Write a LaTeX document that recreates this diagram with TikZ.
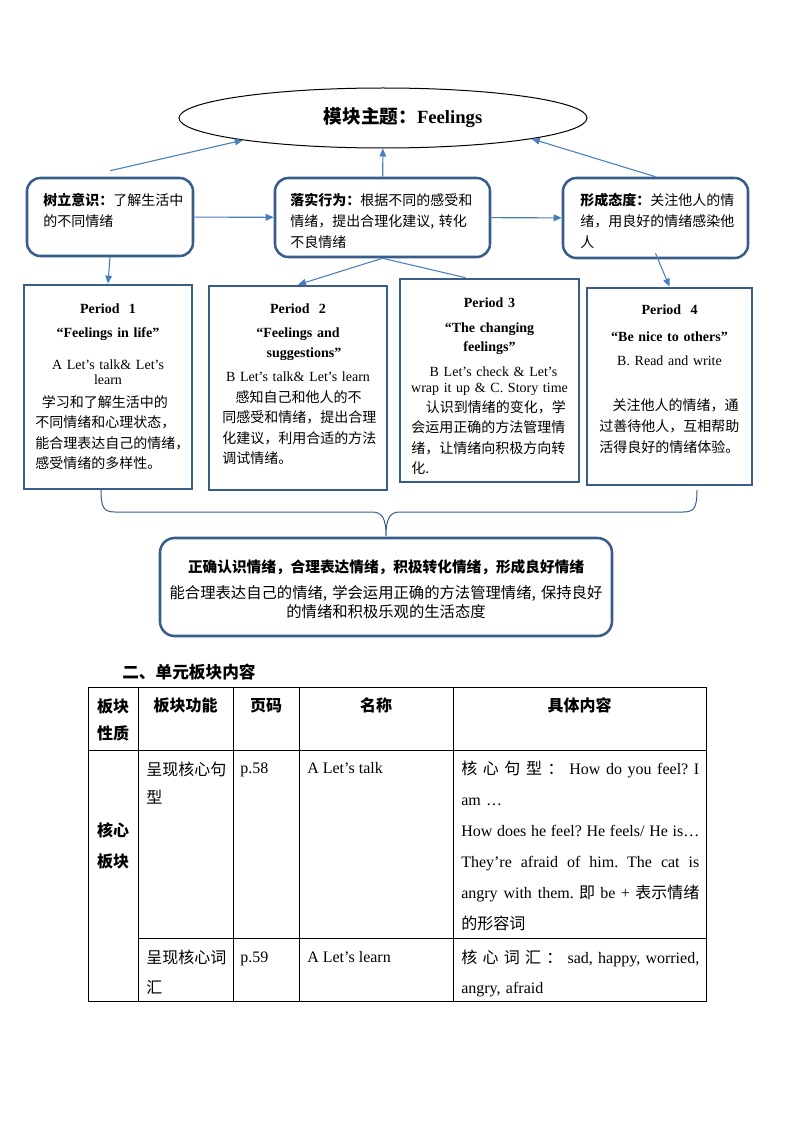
\documentclass[tikz,border=0pt]{standalone}
\usepackage{fontspec}
\setmainfont{Liberation Serif}
\newfontfamily\cjk{Noto Sans CJK SC}
\usetikzlibrary{arrows.meta,shapes.geometric}
\definecolor{boxblue}{RGB}{56,93,138}
\definecolor{lineblue}{RGB}{74,126,187}

\begin{document}
\begin{tikzpicture}[x=0.75pt, y=-0.75pt,
    box/.style = {draw=boxblue, line width=1.9pt, rounded corners=10pt},
    period/.style = {draw=boxblue, line width=2pt},
    link/.style = {draw=lineblue, line width=0.8pt, -{Triangle[length=6pt, width=5pt]}},
    txt/.style = {inner sep=0pt, anchor=base west},
    mid/.style = {inner sep=0pt, anchor=base},
    en/.style = {font=\fontsize{10.5pt}{11.25pt}\selectfont},
    zhbox/.style = {font=\cjk\fontsize{10.5pt}{16.1pt}\selectfont},
    zhp/.style = {font=\cjk\fontsize{10.5pt}{15.4pt}\selectfont},
    th/.style = {font=\cjk\fontsize{12pt}{20.25pt}\selectfont\bfseries},
    td/.style = {font=\fontsize{12pt}{23.25pt}\selectfont},
    grid/.style = {line width=0.75pt}]

    \useasboundingbox (0,0) rectangle (794,1123);

    \node[draw, ellipse, line width=0.75pt, minimum width=306pt, minimum height=45pt] (0) at (383,118) {};
    \node[mid, font=\fontsize{14pt}{16pt}\selectfont\bfseries] (0t) at (403,124) {{\cjk 模块主题：}Feelings};

    \node[box, minimum width=124.5pt, minimum height=58.5pt] (1) at (110,217) {};
    \node[txt, zhbox, text width=122pt, align=left] (1t) at (43,205) {{\bfseries 树立意识：}了解生活中\\的不同情绪};
    \node[box, minimum width=161.25pt, minimum height=59.25pt] (2) at (382.5,217.5) {};
    \node[txt, zhbox, text width=150pt, align=left] (2t) at (290,205) {{\bfseries 落实行为：}根据不同的感受和\\情绪，提出合理化建议, 转化\\不良情绪};
    \node[box, minimum width=138.75pt, minimum height=60pt] (3) at (655.5,218) {};
    \node[txt, zhbox, text width=125pt, align=left] (3t) at (580,205) {{\bfseries 形成态度：}关注他人的情\\绪，用良好的情绪感染他\\人};

    \node[period, minimum width=126pt, minimum height=153pt] (4) at (108,387) {};
    \node[mid, en, text width=120pt, align=center] (4h) at (108,313) {\textbf{Period\ \ 1}\\[6.75pt]\textbf{“Feelings in life”}\\[12.75pt]A Let’s talk\&\ Let’s\\learn};
    \node[txt, zhp, text width=120pt, align=left] (4b) at (35,407) {\hspace*{5pt}学习和了解生活中的\\不同情绪和心理状态，\\能合理表达自己的情绪，\\感受情绪的多样性。};

    \node[period, minimum width=133.5pt, minimum height=153pt] (5) at (298,388) {};
    \node[mid, en, text width=128pt, align=center] (5h) at (298,313) {\textbf{Period\ \ 2}\\[6.75pt]\textbf{“Feelings and}\\[3.75pt]\hspace*{9pt}\textbf{suggestions”}\\[6.75pt]B Let’s talk\&\ Let’s learn};
    \node[txt, zhp, text width=125pt, align=left] (5b) at (222,402) {\hspace*{10pt}感知自己和他人的不\\同感受和情绪，提出合理\\化建议，利用合适的方法\\调试情绪。};

    \node[period, minimum width=134.25pt, minimum height=152.25pt] (6) at (489.5,380.5) {};
    \node[mid, en, text width=130pt, align=center] (6h) at (489.5,307) {\textbf{Period 3}\\[7.5pt]\textbf{“The changing}\\[3pt]\textbf{feelings”}\\[7.5pt]\hspace*{6pt}B Let’s check \& Let’s\\[0.75pt]wrap it up \& C. Story time};
    \node[txt, zhp, text width=128pt, align=left] (6b) at (411,412) {\hspace*{11pt}认识到情绪的变化，学\\会运用正确的方法管理情\\绪，让情绪向积极方向转\\化.};

    \node[period, minimum width=123.75pt, minimum height=147.75pt] (7) at (669.5,386.5) {};
    \node[mid, en, text width=120pt, align=center] (7h) at (669.5,314) {\textbf{Period\ \ 4}\\[9pt]\textbf{“Be nice to others”}\\[6.75pt]B. Read and write};
    \node[txt, zhbox, text width=118pt, align=left] (7b) at (599,410) {\hspace*{10pt}关注他人的情绪，通\\过善待他人，互相帮助\\活得良好的情绪体验。};

    \node[box, rounded corners=11pt, minimum width=339pt, minimum height=73.5pt] (8) at (386,587) {};
    \node[mid, font=\cjk\fontsize{11pt}{14pt}\selectfont\bfseries] (8a) at (386,572) {正确认识情绪，合理表达情绪，积极转化情绪，形成良好情绪};
    \node[mid, text width=330pt, align=center, font=\cjk\fontsize{11.5pt}{14.25pt}\selectfont] (8b) at (386,598) {能合理表达自己的情绪, 学会运用正确的方法管理情绪, 保持良好\\的情绪和积极乐观的生活态度};

    \draw[link] ([yshift=4.5pt]1.north) -- (0.189);
    \draw[link] (2) -- (0);
    \draw[link] (3.north) -- (0.352);
    \draw[link] (1) -- (2);
    \draw[link] (2) -- (3);
    \draw[link] (1.south) -- (4.north);
    \draw[link] (2.south) -- (5.north);
    \draw[draw=lineblue, line width=0.8pt] (2.south) -- ([xshift=-18pt]6.north);
    \draw[link] ([yshift=4.5pt]3.south) -- (7.north);

    \draw[boxblue, line width=0.75pt] (101,490) .. controls (101,508) and (104,512) .. (115,512) -- (372,512) .. controls (382,512) and (386,518) .. (386,536) .. controls (386,518) and (390,512) .. (400,512) -- (683,512) .. controls (694,512) and (697,508) .. (697,490);

    \node[txt, font=\cjk\fontsize{12.5pt}{14pt}\selectfont\bfseries] (sec) at (122,678) {二、单元板块内容};

    \draw[grid] (88,687) rectangle (706,1001);
    \draw[grid] (88,750) -- (706,750);
    \draw[grid] (138,938) -- (706,938);
    \foreach \x in {138,233,299,453}
        \draw[grid] (\x,687) -- (\x,1001);

    \node[mid, th, text width=40pt, align=center] (h1) at (113,712) {板块\\性质};
    \node[mid, th] (h2) at (185.5,711) {板块功能};
    \node[mid, th] (h3) at (266,711) {页码};
    \node[mid, th] (h4) at (376,711) {名称};
    \node[mid, th] (h5) at (579.5,711) {具体内容};

    \node[mid, font=\cjk\fontsize{12pt}{23.25pt}\selectfont\bfseries, text width=40pt, align=center] (k) at (113,836) {核心\\板块};
    \node[txt, font=\cjk\fontsize{12pt}{21pt}\selectfont, text width=70pt, align=left] (r1a) at (146,775) {呈现核心句\\型};
    \node[txt, td] (r1b) at (240,773) {p.58};
    \node[txt, td] (r1c) at (307,773) {A Let’s talk};
    \node[txt, td, text width=180pt, align=left] (r1d) at (461,774) {\makebox[178.5pt][l]{{\cjk 核\hfill 心\hfill 句\hfill 型\hfill ：}\hfill How\hfill do\hfill you\hfill feel?\hfill I}\\am …\\\makebox[178.5pt][l]{How\hfill does\hfill he\hfill feel?\hfill He\hfill feels/\hfill He\hfill is…}\\\makebox[178.5pt][l]{They’re\hfill afraid\hfill of\hfill him.\hfill The\hfill cat\hfill is}\\\makebox[178.5pt][l]{angry\hfill with\hfill them.\ {\cjk 即} be + {\cjk 表示情绪}}\\{\cjk 的形容词}};

    \node[txt, font=\cjk\fontsize{12pt}{22.5pt}\selectfont, text width=70pt, align=left] (r2a) at (146,963) {呈现核心词\\汇};
    \node[txt, td] (r2b) at (240,962) {p.59};
    \node[txt, td] (r2c) at (307,962) {A Let’s learn};
    \node[txt, td, text width=180pt, align=left, font=\fontsize{12pt}{22.5pt}\selectfont] (r2d) at (461,963) {\makebox[178.5pt][l]{{\cjk 核\hfill 心\hfill 词\hfill 汇\hfill ：}\hfill sad,\hfill happy,\hfill worried,}\\angry, afraid};

\end{tikzpicture}
\end{document}
